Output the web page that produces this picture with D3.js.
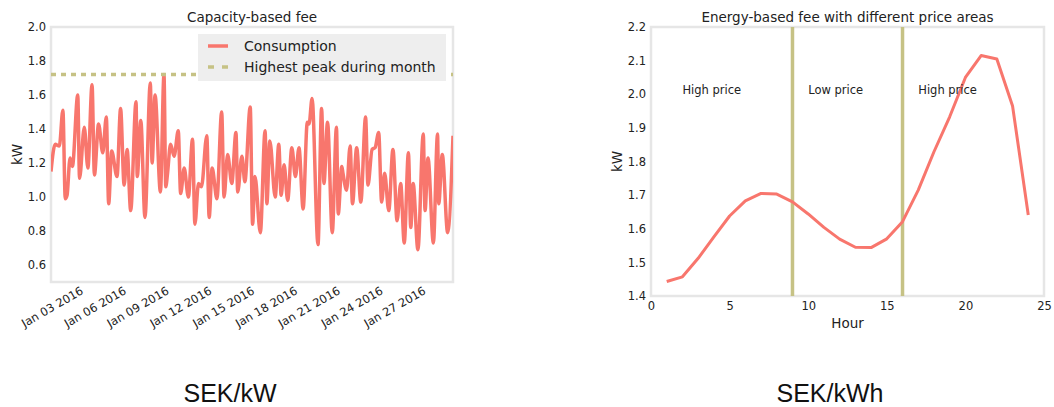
<!DOCTYPE html>
<html><head><meta charset="utf-8">
<script src="https://cdn.jsdelivr.net/npm/d3@7"></script>
<style>
body{margin:0;background:#fff;}
svg{display:block;font-family:"DejaVu Sans",sans-serif;}
</style>
</head><body><svg id="c" width="1054" height="407"></svg>
<script>
// ---------- Data: left chart (capacity-based fee) ----------
const consumptionHours = [0,7,14,20,24,27,32,36,45,48,56,62,69,73,80,87,93,97,102,111,117,123,128,134,
  143,145,151,158,167,170,175,184,190,193,196,201,207,214,218,224,231,238,242,248,253,262,266,
  271,279,287,291,297,304,311,314,321,326,335,339,343,352,360,363,368,377,383,387,392,398,405,
  411,417,424,431,434,439,449,455,459,465,473,480,483,489,491,497,503,507,514,521,529,533,
  540,545,551,556,561,568,575,582,588,594,601,605,609,617,626,629,634,643,650,652,658,667,676];
const consumptionKW = [1.15,1.31,1.30,1.51,0.99,1.01,1.23,1.18,1.60,1.11,1.41,1.17,1.66,1.13,1.43,1.26,1.47,0.96,1.27,1.12,1.52,1.07,1.28,0.92,
  1.56,1.12,1.45,0.88,1.67,1.20,1.60,1.03,1.72,1.06,1.14,1.31,1.24,1.39,1.02,1.17,1.00,1.34,0.84,1.08,1.06,1.36,0.88,
  1.17,0.99,1.50,1.00,1.25,1.08,1.38,1.03,1.24,1.09,1.53,0.84,1.12,0.79,1.39,0.96,1.33,1.00,1.31,1.01,1.19,0.98,1.29,
  1.12,1.29,0.93,1.44,1.43,1.58,0.72,1.52,1.08,1.44,0.79,1.41,0.90,1.18,1.14,1.04,1.30,0.96,1.29,0.97,1.47,1.07,
  1.28,1.29,1.38,0.97,1.14,0.92,1.28,0.86,1.08,0.73,1.26,0.82,1.08,0.69,1.37,0.92,1.23,0.73,1.37,0.96,1.25,0.79,1.36];
const highestPeakKW = 1.72;
const dateTicks = ["2016-01-03","2016-01-06","2016-01-09","2016-01-12","2016-01-15","2016-01-18","2016-01-21","2016-01-24","2016-01-27"];
const leftYTicks = [0.6,0.8,1.0,1.2,1.4,1.6,1.8,2.0];
const legendLabels = ["Consumption","Highest peak during month"];

// ---------- Data: right chart (energy-based fee) ----------
const hourOfDay = [1,2,3,4,5,6,7,8,9,10,11,12,13,14,15,16,17,18,19,20,21,22,23,24];
const hourlyKW = [1.443,1.457,1.512,1.576,1.638,1.683,1.705,1.703,1.680,1.644,1.604,1.569,1.545,1.544,1.570,1.621,1.715,1.829,1.933,2.050,2.115,2.105,1.965,1.641];
const priceBoundaryHours = [9,16];
const priceAreaLabels = ["High price","Low price","High price"];
const priceAreaLabelHours = [2,10,17];
const priceAreaLabelKW = 2.0;
const rightXTicks = [0,5,10,15,20,25];
const rightYTicks = [1.4,1.5,1.6,1.7,1.8,1.9,2.0,2.1,2.2];

const titles = ["Capacity-based fee","Energy-based fee with different price areas"];
const unitCaptions = ["SEK/kW","SEK/kWh"];

// ---------- Styles ----------
const RED = "#f8766d", KHAKI = "#c6c285", FRAME = "#e6e6e6", TXT = "#222";
const svg = d3.select("#c");
const startMs = Date.UTC(2016,0,1);
const toDate = h => new Date(startMs + h*3600e3);
const parseDay = d3.utcParse("%Y-%m-%d");

// ================= LEFT CHART =================
const L = {x0:51, x1:453, y0:27, y1:282};
const xL = d3.scaleUtc().domain([toDate(consumptionHours[0]), toDate(consumptionHours[consumptionHours.length-1])]).range([L.x0, L.x1]);
const yL = d3.scaleLinear().domain([0.5,2.0]).range([L.y1, L.y0]);

svg.append("defs").append("clipPath").attr("id","clipL")
  .append("rect").attr("x",L.x0).attr("y",L.y0).attr("width",L.x1-L.x0).attr("height",L.y1-L.y0);

svg.append("rect").attr("x",L.x0).attr("y",L.y0).attr("width",L.x1-L.x0).attr("height",L.y1-L.y0)
  .attr("fill","#fff").attr("stroke",FRAME).attr("stroke-width",2.5);

const consData = consumptionHours.map((h,i)=>({t:toDate(h), v:consumptionKW[i]}));
svg.append("path").datum(consData).attr("clip-path","url(#clipL)")
  .attr("fill","none").attr("stroke",RED).attr("stroke-width",3.5).attr("stroke-linejoin","round")
  .attr("d", d3.line().x(d=>xL(d.t)).y(d=>yL(d.v)).curve(d3.curveMonotoneX));

svg.append("line").attr("x1",L.x0).attr("x2",L.x1).attr("y1",yL(highestPeakKW)).attr("y2",yL(highestPeakKW))
  .attr("stroke",KHAKI).attr("stroke-width",3.5).attr("stroke-dasharray","5,5");

// y axis
svg.append("g").attr("transform",`translate(${L.x0-1},0)`)
  .call(d3.axisLeft(yL).tickValues(leftYTicks).tickFormat(d3.format(".1f")).tickSize(0).tickPadding(4))
  .call(g=>g.select(".domain").remove())
  .call(g=>g.selectAll("text").attr("font-size","11.5px").attr("fill",TXT).attr("font-family","DejaVu Sans"));

// x axis rotated
svg.append("g").attr("transform",`translate(0,${L.y1+4})`)
  .call(d3.axisBottom(xL).tickValues(dateTicks.map(parseDay)).tickFormat(d3.utcFormat("%b %d %Y")).tickSize(0))
  .call(g=>g.select(".domain").remove())
  .call(g=>g.selectAll("text").attr("font-size","11.5px").attr("fill",TXT).attr("font-family","DejaVu Sans")
    .attr("text-anchor","end").attr("x",0).attr("y",0).attr("dy","0.72em").attr("transform","rotate(-30)"));

svg.append("text").attr("transform",`translate(22,${(L.y0+L.y1)/2}) rotate(-90)`)
  .attr("text-anchor","middle").attr("font-size","13.5px").attr("fill",TXT).text("kW");

svg.append("text").attr("x",(L.x0+L.x1)/2).attr("y",22).attr("text-anchor","middle")
  .attr("font-size","13.5px").attr("fill",TXT).text(titles[0]);

// legend
const lg = svg.append("g");
lg.append("rect").attr("x",198).attr("y",34).attr("width",248).attr("height",47).attr("fill","#eeeeee");
lg.append("line").attr("x1",208).attr("x2",228).attr("y1",46).attr("y2",46).attr("stroke",RED).attr("stroke-width",3.5);
lg.append("line").attr("x1",208).attr("x2",228).attr("y1",67).attr("y2",67).attr("stroke",KHAKI).attr("stroke-width",3.5).attr("stroke-dasharray","6,8");
lg.selectAll("text.lg").data(legendLabels).join("text").attr("class","lg")
  .attr("x",244).attr("y",(d,i)=>51+i*21).attr("font-size","14px").attr("fill",TXT).text(d=>d);

// ================= RIGHT CHART =================
const R = {x0:651, x1:1044, y0:27, y1:296};
const xR = d3.scaleLinear().domain([0,25]).range([R.x0,R.x1]);
const yR = d3.scaleLinear().domain([1.4,2.2]).range([R.y1,R.y0]);

svg.append("rect").attr("x",R.x0).attr("y",R.y0).attr("width",R.x1-R.x0).attr("height",R.y1-R.y0)
  .attr("fill","#fff").attr("stroke",FRAME).attr("stroke-width",2.5);

svg.selectAll("line.pb").data(priceBoundaryHours).join("line").attr("class","pb")
  .attr("x1",d=>xR(d)).attr("x2",d=>xR(d)).attr("y1",R.y0).attr("y2",R.y1)
  .attr("stroke",KHAKI).attr("stroke-width",3.5);

svg.append("path").datum(hourOfDay.map((h,i)=>({h, v:hourlyKW[i]})))
  .attr("fill","none").attr("stroke",RED).attr("stroke-width",3).attr("stroke-linejoin","round")
  .attr("d", d3.line().x(d=>xR(d.h)).y(d=>yR(d.v)));

svg.selectAll("text.pa").data(priceAreaLabels).join("text").attr("class","pa")
  .attr("x",(d,i)=>xR(priceAreaLabelHours[i])).attr("y",yR(priceAreaLabelKW))
  .attr("font-size","11.5px").attr("fill",TXT).text(d=>d);

svg.append("g").attr("transform",`translate(${R.x0-1},0)`)
  .call(d3.axisLeft(yR).tickValues(rightYTicks).tickFormat(d3.format(".1f")).tickSize(0).tickPadding(4))
  .call(g=>g.select(".domain").remove())
  .call(g=>g.selectAll("text").attr("font-size","11.5px").attr("fill",TXT).attr("font-family","DejaVu Sans"));

svg.append("g").attr("transform",`translate(0,${R.y1+1})`)
  .call(d3.axisBottom(xR).tickValues(rightXTicks).tickFormat(d3.format("d")).tickSize(0).tickPadding(5))
  .call(g=>g.select(".domain").remove())
  .call(g=>g.selectAll("text").attr("font-size","11.5px").attr("fill",TXT).attr("font-family","DejaVu Sans"));

svg.append("text").attr("x",(R.x0+R.x1)/2).attr("y",328).attr("text-anchor","middle")
  .attr("font-size","13.5px").attr("fill",TXT).text("Hour");
svg.append("text").attr("transform",`translate(622,${(R.y0+R.y1)/2}) rotate(-90)`)
  .attr("text-anchor","middle").attr("font-size","13.5px").attr("fill",TXT).text("kW");
svg.append("text").attr("x",(R.x0+R.x1)/2).attr("y",22).attr("text-anchor","middle")
  .attr("font-size","13.5px").attr("fill",TXT).text(titles[1]);

// captions
svg.selectAll("text.cap").data(unitCaptions).join("text").attr("class","cap")
  .attr("x",(d,i)=>[230,830][i]).attr("y",402).attr("text-anchor","middle")
  .attr("font-family","'Liberation Sans',Arial,sans-serif").attr("font-size","25px").attr("fill","#111").text(d=>d);
</script>
</body></html>
